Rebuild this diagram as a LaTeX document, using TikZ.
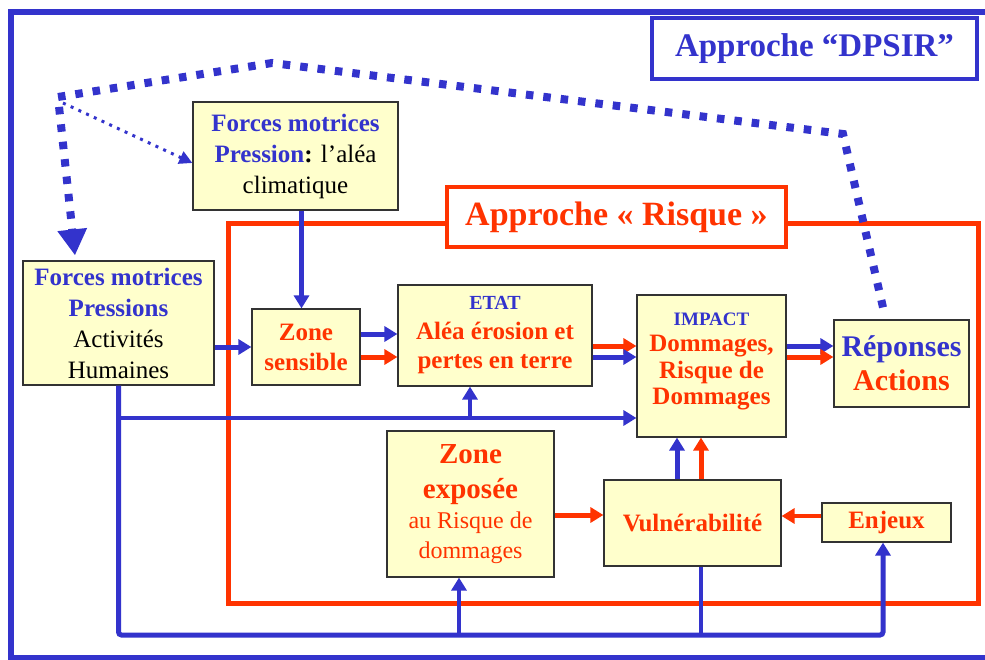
\documentclass[tikz,border=0pt]{standalone}
\usepackage{fontspec}
\setmainfont{Liberation Serif}
\usetikzlibrary{arrows.meta}
\definecolor{dpblue}{RGB}{51,51,204}
\definecolor{rkred}{RGB}{255,51,0}
\definecolor{boxyellow}{RGB}{255,255,204}
\newcommand{\bluebf}[1]{\textcolor{dpblue}{\textbf{#1}}}
\newcommand{\redbf}[1]{\textcolor{rkred}{\textbf{#1}}}

\begin{document}
\begin{tikzpicture}[x=1pt,y=-1pt,
    box/.style={draw=black!80, fill=boxyellow, line width=1.2pt, align=center, inner sep=0pt, font=\fontsize{25}{31}\selectfont},
    bluearrow/.style={draw=dpblue, line width=5pt, -{Triangle[length=13pt,width=15pt]}},
    redarrow/.style={draw=rkred, line width=5pt, -{Triangle[length=13pt,width=15pt]}},
    blueline/.style={draw=dpblue, line width=5pt},
    bigdots/.style={draw=dpblue, line width=8pt, dash pattern=on 7.5pt off 10pt},
    smalldots/.style={draw=dpblue, line width=3pt, dash pattern=on 3pt off 5.5pt, -{Triangle[length=13pt,width=13pt]}}]
            \useasboundingbox (0,0) rectangle (985,660);
            \fill[white] (0,0) rectangle (985,660);
            \draw[dpblue, line width=5.5pt] (995,12) -- (11,12) -- (11,658) -- (995,658);
            \draw[rkred, line width=5pt] (228,224) rectangle (978,603);

            \node[draw=dpblue, line width=3.5pt, fill=white, minimum width=325pt, minimum height=61pt, font=\fontsize{33}{36}\selectfont] (dpsir) at (814.5,48.5) {\bluebf{Approche “DPSIR”}};
            \node[draw=rkred, line width=3.5pt, fill=white, minimum width=339pt, minimum height=60pt, font=\fontsize{34}{36}\selectfont] (risque) at (616.5,217) {\redbf{Approche « Risque »}};

            \node[box, minimum width=205pt, minimum height=108pt] (fm1) at (295.5,156) {\bluebf{Forces motrices}\\ \bluebf{Pression}\textbf{:} l’aléa\\ climatique};
            \node[box, minimum width=191pt, minimum height=124pt] (fm2) at (118.5,323) {\bluebf{Forces motrices}\\ \bluebf{Pressions}\\ Activités\\ Humaines};
            \node[box, minimum width=108pt, minimum height=76pt, font=\fontsize{25}{30}\selectfont] (zs) at (306,347) {\redbf{Zone}\\ \redbf{sensible}};
            \node[box, minimum width=194pt, minimum height=101pt, font=\fontsize{25}{29.5}\selectfont] (etat) at (495,335.5) {{\fontsize{20}{24}\selectfont\bluebf{ETAT}}\\ \redbf{Aléa érosion et}\\ \redbf{pertes en terre}};
            \node[box, minimum width=149pt, minimum height=142pt, font=\fontsize{25}{26.5}\selectfont, text depth=15pt] (impact) at (711.5,366) {{\fontsize{19}{22}\selectfont\bluebf{IMPACT}}\\ \redbf{Dommages,}\\ \redbf{Risque de}\\ \redbf{Dommages}};
            \node[box, minimum width=135pt, minimum height=87pt, font=\fontsize{30}{34}\selectfont] (rep) at (901.5,363.5) {\bluebf{Réponses}\\ \redbf{Actions}};
            \node[box, minimum width=167pt, minimum height=146pt, font=\fontsize{24}{30}\selectfont] (zexp) at (470.5,504) {{\fontsize{29}{35}\selectfont\redbf{Zone}}\\[5pt] {\fontsize{29}{35}\selectfont\redbf{exposée}}\\ \textcolor{rkred}{au Risque de}\\ \textcolor{rkred}{dommages}};
            \node[box, minimum width=177pt, minimum height=86pt, font=\fontsize{25}{30}\selectfont] (vuln) at (692.5,523) {\redbf{Vulnérabilité}};
            \node[box, minimum width=129pt, minimum height=39pt, font=\fontsize{25}{30}\selectfont] (enj) at (886.5,522.5) {\redbf{Enjeux}};

            \coordinate (bus) at (500,635);
            \coordinate (split) at (fm2.south |- 0,418);
            \coordinate (dpa) at (58,97);
            \coordinate (dpb) at (272,63);
            \coordinate (dpc) at (843,134);

            \draw[bluearrow, line width=4.5pt] ([xshift=6pt]fm1.south) -- ([xshift=6pt]fm1.south |- zs.north);
            \draw[bluearrow] (fm2.east |- zs.west) -- (zs.west);
            \draw[bluearrow] ([yshift=13pt]zs.east) -- ([yshift=13pt]zs.east -| etat.west);
            \draw[redarrow] ([yshift=-10pt]zs.east) -- ([yshift=-10pt]zs.east -| etat.west);
            \draw[redarrow] ([yshift=-10.5pt]etat.east) -- ([yshift=-10.5pt]etat.east -| impact.west);
            \draw[bluearrow] ([yshift=-21.5pt]etat.east) -- ([yshift=-21.5pt]etat.east -| impact.west);
            \draw[bluearrow] ([yshift=20pt]impact.east) -- ([yshift=20pt]impact.east -| rep.west);
            \draw[redarrow] ([yshift=9pt]impact.east) -- ([yshift=9pt]impact.east -| rep.west);
            \draw[bluearrow, rounded corners=3pt] (fm2.south) |- (bus) -| ([xshift=-3.5pt]enj.south);
            \draw[bluearrow, line width=4pt] (split) -- (split -| impact.west);
            \draw[bluearrow, line width=4pt] ([xshift=-25pt]etat.south |- split) -- ([xshift=-25pt]etat.south);
            \draw[bluearrow, line width=4pt] ([xshift=-11.5pt]zexp.south |- bus) -- ([xshift=-11.5pt]zexp.south);
            \draw[blueline, line width=4.5pt] ([xshift=8.5pt]vuln.south) -- ([xshift=8.5pt]vuln.south |- bus);
            \draw[bluearrow] ([xshift=-15.5pt]vuln.north) -- ([xshift=-15.5pt]vuln.north |- impact.south);
            \draw[redarrow] ([xshift=8.5pt]vuln.north) -- ([xshift=8.5pt]vuln.north |- impact.south);
            \draw[redarrow] ([yshift=-11pt]zexp.east) -- ([yshift=-11pt]zexp.east -| vuln.west);
            \draw[redarrow, line width=3.5pt] ([yshift=6.5pt]enj.west) -- ([yshift=6.5pt]enj.west -| vuln.east);

            \draw[bigdots, -{Triangle[length=26pt,width=28pt]}] ([shift={(-18.5pt,12pt)}]rep.north) -- (dpc) -- (dpb) -- (dpa) -- ([shift={(-43.5pt,5pt)}]fm2.north);
            \draw[smalldots] ([shift={(5pt,-6pt)}]dpa) -- ([yshift=-7pt]fm1.west);
        \end{tikzpicture}
\end{document}
